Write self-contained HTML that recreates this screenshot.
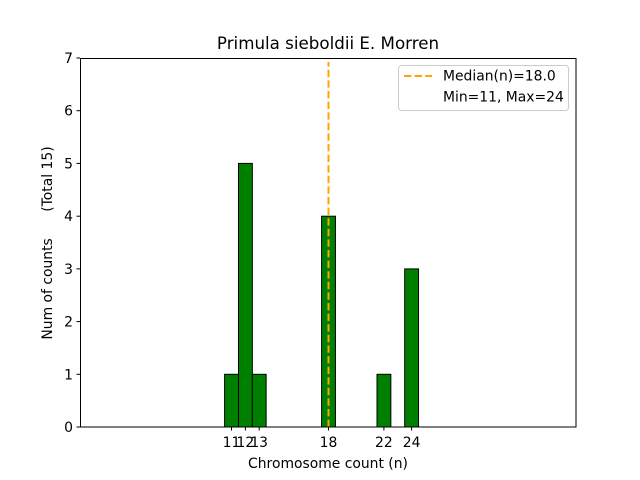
<!DOCTYPE html>
<html><head><style>body{margin:0;background:#fff}svg{display:block}text{font-family:"DejaVu Sans","Liberation Sans",sans-serif;fill:#000;white-space:pre}</style></head>
<body>
<svg width="640" height="480" viewBox="0 0 640 480">
<rect width="640" height="480" fill="#fff"/>
<text x="328" y="49" font-size="16.7" text-anchor="middle">Primula sieboldii E. Morren</text>
<g fill="green" stroke="#000" stroke-width="1">
<rect x="224.6" y="374.3" width="13.85" height="52.7"/>
<rect x="238.5" y="163.4" width="13.85" height="263.6"/>
<rect x="252.3" y="374.3" width="13.85" height="52.7"/>
<rect x="321.6" y="216.2" width="13.85" height="210.8"/>
<rect x="377" y="374.3" width="13.85" height="52.7"/>
<rect x="404.7" y="268.9" width="13.85" height="158.1"/>
</g>
<line x1="224.6" y1="427" x2="459" y2="427" stroke="#000" stroke-width="1"/>
<line x1="328.5" y1="427" x2="328.5" y2="62" stroke="orange" stroke-width="2" stroke-dasharray="7.4,3.2"/>
<rect x="80.5" y="58.5" width="495.5" height="368.5" fill="none" stroke="#000" stroke-width="1"/>
<g stroke="#000" stroke-width="1">
<line x1="80" y1="427" x2="76.5" y2="427"/><line x1="80" y1="374.3" x2="76.5" y2="374.3"/>
<line x1="80" y1="321.6" x2="76.5" y2="321.6"/><line x1="80" y1="268.9" x2="76.5" y2="268.9"/>
<line x1="80" y1="216.2" x2="76.5" y2="216.2"/><line x1="80" y1="163.4" x2="76.5" y2="163.4"/>
<line x1="80" y1="110.7" x2="76.5" y2="110.7"/><line x1="80" y1="58" x2="76.5" y2="58"/>
<line x1="231.5" y1="427" x2="231.5" y2="430.5"/><line x1="245.4" y1="427" x2="245.4" y2="430.5"/>
<line x1="259.2" y1="427" x2="259.2" y2="430.5"/><line x1="328.5" y1="427" x2="328.5" y2="430.5"/>
<line x1="383.9" y1="427" x2="383.9" y2="430.5"/><line x1="411.6" y1="427" x2="411.6" y2="430.5"/>
</g>
<g font-size="13.9" text-anchor="end">
<text x="73" y="432">0</text><text x="73" y="379.3">1</text><text x="73" y="326.6">2</text>
<text x="73" y="273.9">3</text><text x="73" y="221.2">4</text><text x="73" y="168.4">5</text>
<text x="73" y="115.7">6</text><text x="73" y="63">7</text>
</g>
<g font-size="13.9" text-anchor="middle">
<text x="231.5" y="447">11</text><text x="245.4" y="447">12</text><text x="259.2" y="447">13</text>
<text x="328.5" y="447">18</text><text x="383.9" y="447">22</text><text x="411.6" y="447">24</text>
<text x="328" y="468">Chromosome count (n)</text>
</g>
<text transform="translate(52,243) rotate(-90)" font-size="13.9" text-anchor="middle">Num of counts      (Total 15)</text>
<rect x="398.5" y="65.5" width="170" height="45" rx="3" fill="#fff" fill-opacity="0.8" stroke="#ccc"/>
<line x1="404" y1="76" x2="432" y2="76" stroke="orange" stroke-width="2" stroke-dasharray="7.4,3.2"/>
<text x="443" y="80.5" font-size="13.9">Median(n)=18.0</text>
<text x="443" y="101.5" font-size="13.9">Min=11, Max=24</text>
</svg>
</body></html>
